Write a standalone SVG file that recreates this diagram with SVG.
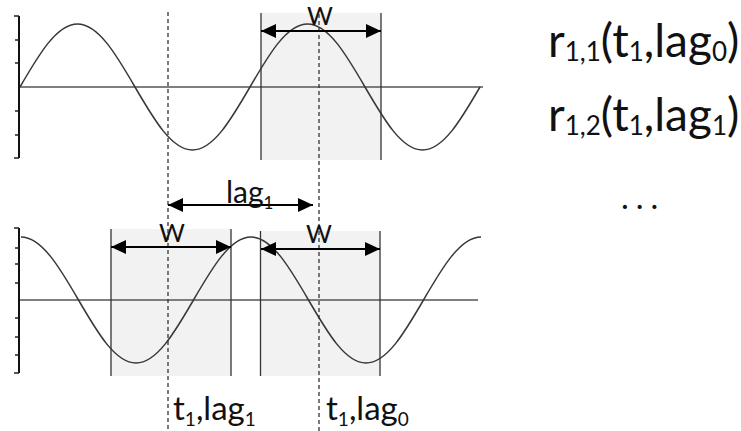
<svg xmlns="http://www.w3.org/2000/svg" width="741" height="431" viewBox="0 0 741 431">
<style>
  .box{fill:#f2f2f2;stroke:none}
  .edge{stroke:#333;stroke-width:1.3;fill:none}
  .yaxis{stroke:#111;stroke-width:2;fill:none}
  .tick{stroke:#222;stroke-width:1.3}
  .xaxis{stroke:#555;stroke-width:1.6;fill:none}
  .wave{stroke:#383838;stroke-width:1.5;fill:none}
  .dash{stroke:#333;stroke-width:1.3;stroke-dasharray:4 3;fill:none}
  .arr{stroke:#000;stroke-width:2.2;fill:none;marker-start:url(#ah);marker-end:url(#ah)}
  text{font-family:Lato,"Open Sans","DejaVu Sans",sans-serif;fill:#111}
  .big{font-size:46px}
  .mid{font-size:33px}
  .w{font-size:25px;text-anchor:middle}
</style>
<defs>
  <marker id="ah" markerUnits="userSpaceOnUse" markerWidth="16" markerHeight="14" refX="15" refY="7" orient="auto-start-reverse">
    <path d="M0,0 L15,7 L0,14 z" fill="#000"/>
  </marker>
</defs>

<g id="windows">
  <rect class="box" x="261" y="13" width="120" height="147"/>
  <rect class="box" x="111" y="229" width="120" height="147"/>
  <rect class="box" x="260.5" y="231" width="119.5" height="145"/>
</g>

<g id="top-plot">
  <line class="xaxis" x1="19" y1="87" x2="483" y2="87"/>
  <line class="yaxis" x1="19" y1="16" x2="19" y2="158"/>
  <path class="tick" d="M14,16H19M15,40H19M15,63H19M15,111H19M15,135H19M14,158H19"/>
  <path class="wave" d="M20,87 C38.75,54.73 56.69,24 77.5,24 C98.31,24 116.25,54.73 135,87 C153.75,119.27 171.69,150 192.5,150 C213.31,150 231.25,119.27 250,87 C268.75,54.73 286.69,24 307.5,24 C328.31,24 346.25,54.73 365,87 C383.75,119.27 401.69,150 422.5,150 C443.31,150 461.25,119.27 480,87"/>
</g>

<g id="bottom-plot">
  <line class="xaxis" x1="19" y1="300" x2="478" y2="300"/>
  <line class="yaxis" x1="19" y1="228" x2="19" y2="373"/>
  <path class="tick" d="M14,228H19M15,248H19M15,264H19M15,283H19M15,318H19M15,337H19M15,355H19M14,373H19"/>
  <path class="wave" d="M21,237 C41.81,237 59.75,267.73 78.5,300 C97.25,332.27 115.19,363 136,363 C156.81,363 174.75,332.27 193.5,300 C212.25,267.73 230.19,237 251,237 C271.81,237 289.75,267.73 308.5,300 C327.25,332.27 345.19,363 366,363 C386.81,363 404.75,332.27 423.5,300 C442.25,267.73 460.19,237 481,237"/>
</g>

<g id="window-edges">
  <line class="edge" x1="261" y1="13" x2="261" y2="160"/>
  <line class="edge" x1="381" y1="13" x2="381" y2="160"/>
  <line class="edge" x1="111" y1="229" x2="111" y2="376"/>
  <line class="edge" x1="231" y1="229" x2="231" y2="376"/>
  <line class="edge" x1="260.5" y1="231" x2="260.5" y2="376"/>
  <line class="edge" x1="380" y1="231" x2="380" y2="376"/>
</g>

<g id="connectors">
  <line class="dash" x1="168" y1="12" x2="168" y2="431"/>
  <line class="dash" x1="319" y1="14" x2="319" y2="431"/>
  <line class="arr" x1="261" y1="31" x2="381" y2="31"/>
  <line class="arr" x1="111" y1="247" x2="231" y2="247"/>
  <line class="arr" x1="261" y1="249" x2="380" y2="249"/>
  <line class="arr" x1="168" y1="205" x2="313" y2="205"/>
</g>

<g id="labels">
  <text class="w" x="320" y="25">W</text>
  <text class="w" x="172" y="242">W</text>
  <text class="w" x="319" y="243">W</text>
  <text x="226" y="203" font-size="30">lag<tspan font-size="17" dy="6">1</tspan></text>
  <text class="mid" x="173" y="420">t<tspan font-size="19" dy="6">1</tspan><tspan dy="-6">,lag</tspan><tspan font-size="19" dy="6">1</tspan></text>
  <text class="mid" x="326" y="420">t<tspan font-size="19" dy="6">1</tspan><tspan dy="-6">,lag</tspan><tspan font-size="19" dy="6">0</tspan></text>
</g>

<g id="correlations">
  <text class="big" x="548" y="57">r<tspan font-size="26" dy="4">1,1</tspan><tspan dy="-4">(t</tspan><tspan font-size="26" dy="4">1</tspan><tspan dy="-4">,lag</tspan><tspan font-size="26" dy="4">0</tspan><tspan dy="-4">)</tspan></text>
  <text class="big" x="548" y="131">r<tspan font-size="26" dy="4">1,2</tspan><tspan dy="-4">(t</tspan><tspan font-size="26" dy="4">1</tspan><tspan dy="-4">,lag</tspan><tspan font-size="26" dy="4">1</tspan><tspan dy="-4">)</tspan></text>
  <text class="mid" x="621" y="209" letter-spacing="7">...</text>
</g>
</svg>
